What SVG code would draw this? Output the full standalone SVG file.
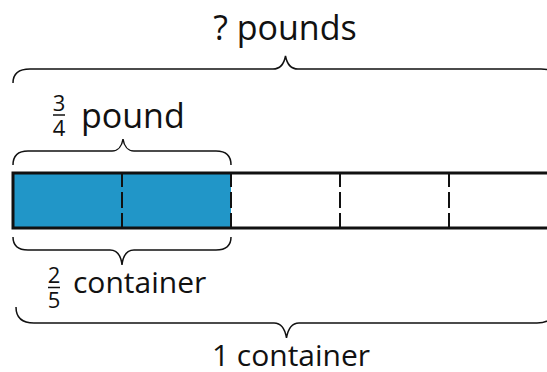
<svg xmlns="http://www.w3.org/2000/svg" width="547" height="372" viewBox="0 0 547 372">
  <style>
    .lbl { font-family: "Open Sans", "Noto Sans", sans-serif; fill: #111; }
    .big { font-size: 34px; }
    .mid { font-size: 30px; }
    .frac { font-size: 22px; text-anchor: middle; }
    .brace { fill: none; stroke: #111; stroke-width: 1.5; }
    .div { stroke: #111; stroke-width: 2; stroke-dasharray: 14 5 16 5 15; }
    .fbar { stroke: #111; stroke-width: 1.5; }
  </style>
  <rect width="547" height="372" fill="#fff"/>

  <g id="tape">
    <rect x="13" y="173" width="218" height="55" fill="#2196C8"/>
    <rect x="13" y="173" width="547" height="55" fill="none" stroke="#111" stroke-width="3"/>
  </g>

  <g id="connectors">
    <line class="div" x1="122" y1="173" x2="122" y2="228"/>
    <line class="div" x1="231" y1="173" x2="231" y2="228"/>
    <line class="div" x1="340" y1="173" x2="340" y2="228"/>
    <line class="div" x1="449" y1="173" x2="449" y2="228"/>
    <path id="brace-top" class="brace" d="M13,83 C13,74 18,69 30,69 L273,69 C280,69 284,64 285.5,56 C287,64 291,69 298,69 L541,69 C553,69 558,74 558,83"/>
    <path id="brace-three-quarters" class="brace" d="M13,165 C13,156 18,151 28,151 L112,151 C118,151 122,146 123,139 C124,146 128,151 134,151 L216,151 C226,151 231,156 231,165"/>
    <path id="brace-two-fifths" class="brace" d="M13,237 C13,246 18,250 28,250 L110,250 C117,250 121,256 122,265 C123,256 127,250 134,250 L216,250 C226,250 231,246 231,237"/>
    <path id="brace-bottom" class="brace" d="M16,307 C16,317 22,323 34,323 L274,323 C281,323 285,329 286.5,338 C288,329 292,323 299,323 L537,323 C549,323 555,317 555,307"/>
  </g>

  <g id="label-pounds">
    <text class="lbl big" x="285" y="40" text-anchor="middle">? pounds</text>
  </g>
  <g id="label-three-quarter-pound">
    <text class="lbl frac" x="59" y="111">3</text>
    <line class="fbar" x1="53" y1="115" x2="65" y2="115"/>
    <text class="lbl frac" x="59" y="136">4</text>
    <text class="lbl big" x="81" y="128">pound</text>
  </g>
  <g id="label-two-fifths-container">
    <text class="lbl frac" x="54" y="283">2</text>
    <line class="fbar" x1="48" y1="287.5" x2="60" y2="287.5"/>
    <text class="lbl frac" x="54" y="308">5</text>
    <text class="lbl mid" x="73" y="293">container</text>
  </g>
  <g id="label-one-container">
    <text class="lbl mid" x="291" y="366" text-anchor="middle">1 container</text>
  </g>
</svg>
